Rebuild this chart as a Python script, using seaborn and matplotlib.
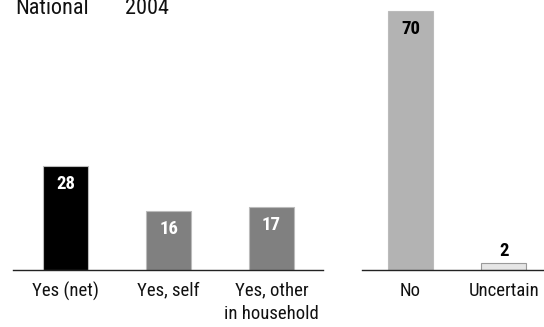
import matplotlib
matplotlib.use("Agg")
import matplotlib.pyplot as plt
import seaborn as sns
import pandas as pd

# Responses, grouped into the "yes" panel and the "no / uncertain" panel
yes_labels = ["Yes (net)", "Yes, self", "Yes, other\nin household"]
yes_values = [28, 16, 17]
no_labels = ["No", "Uncertain"]
no_values = [70, 2]

yes_colors = ["#000000", "#808080", "#808080"]
no_colors = ["#b3b3b3", "#e6e6e6"]
yes_label_colors = ["white", "white", "white"]
no_label_colors = ["black", "black"]

title_left = "National"
title_right = "2004"

sns.set_theme(style="white")
plt.rcParams["font.family"] = ["Roboto Condensed", "DejaVu Sans"]

W, H = 544, 327
fig = plt.figure(figsize=(W / 100, H / 100), dpi=100)
ax1 = fig.add_axes([13 / W, 57 / H, 310 / W, 270 / H])
ax2 = fig.add_axes([362 / W, 57 / H, 182 / W, 270 / H])

ymax = 73


def draw_panel(ax, labels, values, colors, label_colors, width, xlim, inside):
    df = pd.DataFrame({"cat": labels, "val": values})
    sns.barplot(data=df, x="cat", y="val", hue="cat", palette=colors,
                legend=False, width=width, ax=ax, saturation=1)
    for patch, c in zip(ax.patches, colors):
        patch.set_edgecolor("#9a9a9a" if c == "#e6e6e6" else "#bbbbbb")
        patch.set_linewidth(0.8)
    for i, (v, lc, ins) in enumerate(zip(values, label_colors, inside)):
        if ins:
            ax.annotate(str(v), (i, v), xytext=(0, -18), textcoords="offset pixels",
                        ha="center", va="center", color=lc, fontsize=13.5,
                        fontweight="bold")
        else:
            ax.annotate(str(v), (i, v), xytext=(0, 7), textcoords="offset pixels",
                        ha="center", va="baseline", color=lc, fontsize=13.5,
                        fontweight="bold")
    ax.set_xlim(*xlim)
    ax.set_ylim(0, ymax)
    ax.set_xlabel("")
    ax.set_ylabel("")
    ax.set_yticks([])
    ax.tick_params(axis="x", length=0, pad=8.5, labelsize=13.5, colors="#111111")
    for s in ["top", "left", "right"]:
        ax.spines[s].set_visible(False)
    ax.spines["bottom"].set_color("#222222")
    ax.spines["bottom"].set_linewidth(1.0)
    ax.set_facecolor("none")


draw_panel(ax1, yes_labels, yes_values, yes_colors, yes_label_colors,
           0.44, (-0.51, 2.5), [True, True, True])
draw_panel(ax2, no_labels, no_values, no_colors, no_label_colors,
           0.48, (-0.52, 1.43), [True, False])

for lbl in ax1.get_xticklabels():
    lbl.set_va("top")
    lbl.set_linespacing(1.35)

fig.text(15 / W, 1 - 14 / H, title_left, ha="left", va="baseline",
         fontsize=16, color="#111111")
fig.text(125 / W, 1 - 14 / H, title_right, ha="left", va="baseline",
         fontsize=16, color="#111111")

fig.savefig("out.png", dpi=100)
